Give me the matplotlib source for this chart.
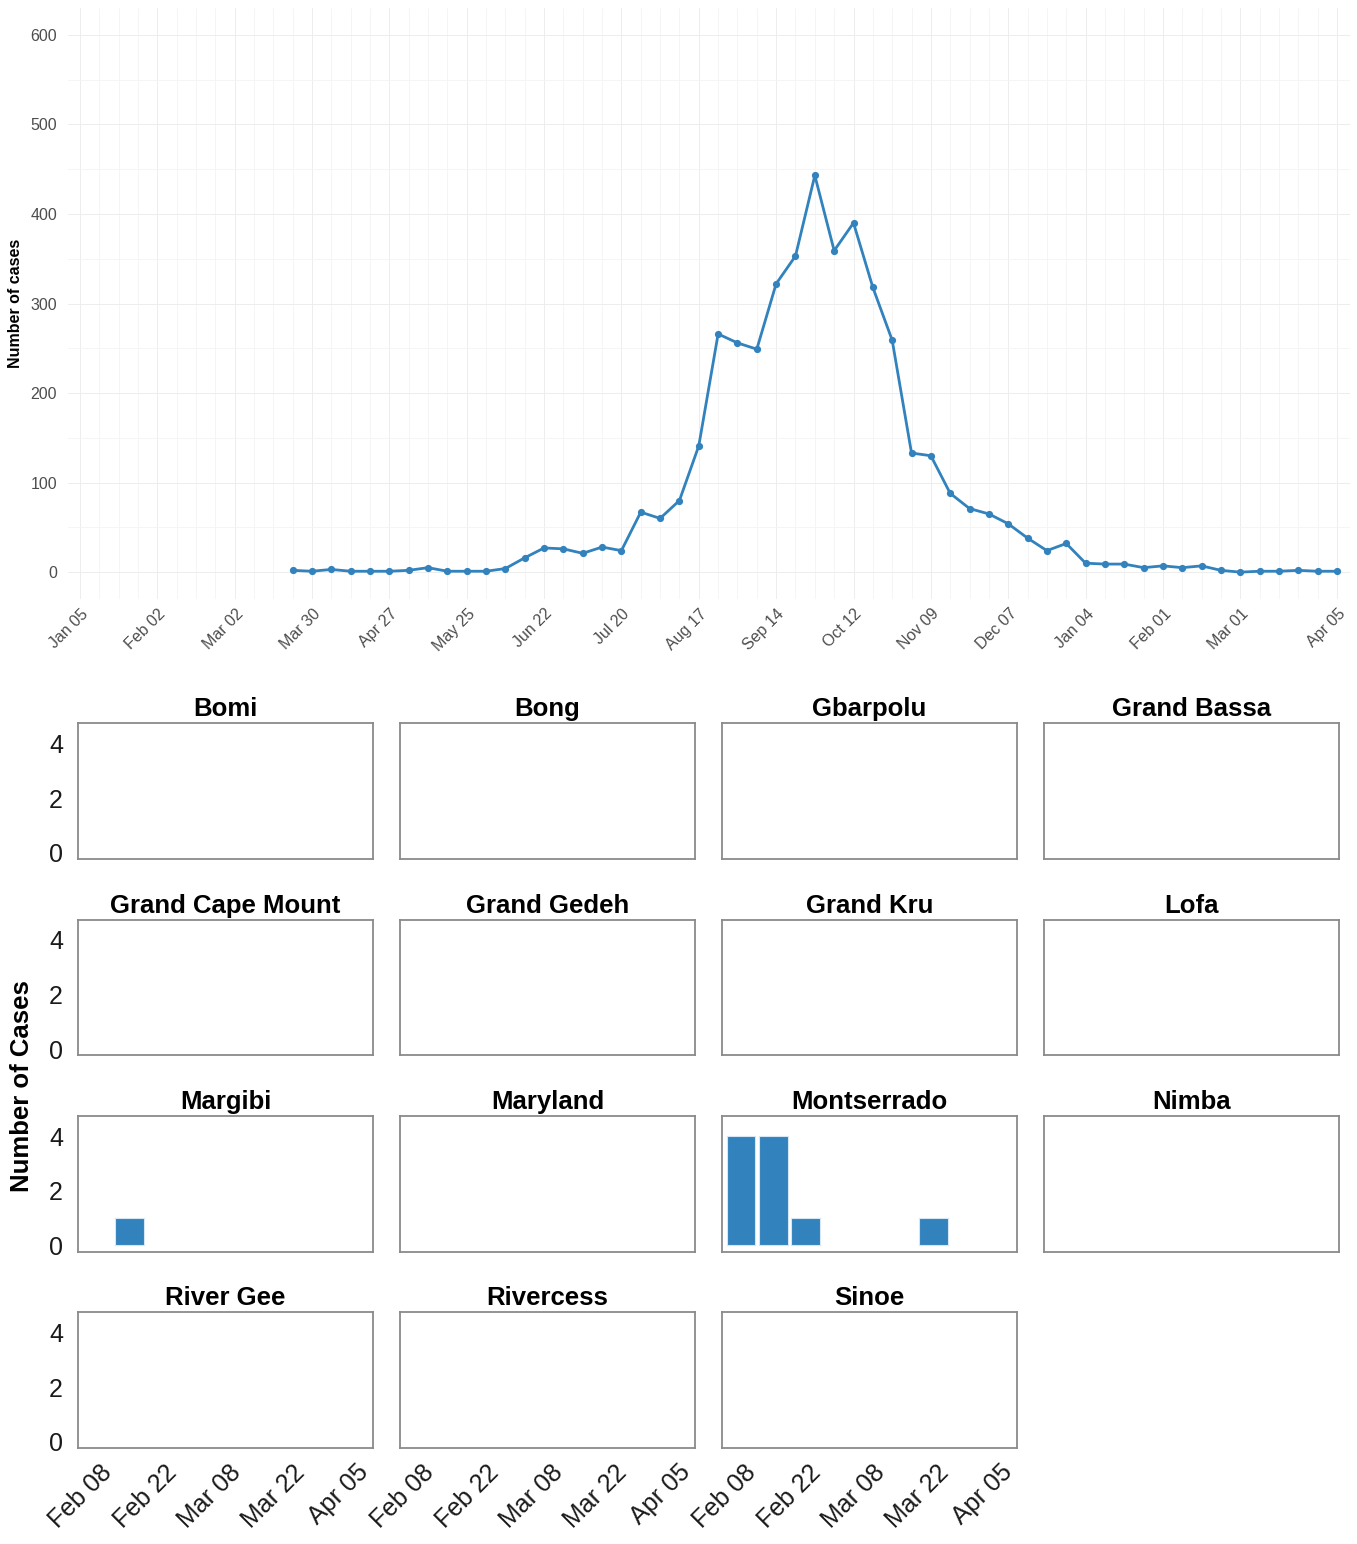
import matplotlib
matplotlib.use("Agg")
import matplotlib.pyplot as plt
import matplotlib.dates as mdates
from matplotlib.transforms import ScaledTranslation
import pandas as pd

plt.rcParams['font.family'] = ['Liberation Sans', 'DejaVu Sans']

# ---- National weekly case counts (weeks starting 2014-03-23) ----
first_week = "2014-03-23"
weekly_cases = [2, 1, 3, 1, 1, 1, 2, 5, 1, 1,
                1, 4, 16, 27, 26, 21, 28, 24, 67, 60,
                80, 141, 266, 256, 249, 322, 353, 443, 359, 390,
                318, 259, 133, 130, 88, 71, 65, 54, 38, 24,
                32, 10, 9, 9, 5, 7, 5, 7, 2, 0,
                1, 1, 2, 1, 1]
top_tick_dates = ["2014-01-05", "2014-02-02", "2014-03-02", "2014-03-30",
                  "2014-04-27", "2014-05-25", "2014-06-22", "2014-07-20",
                  "2014-08-17", "2014-09-14", "2014-10-12", "2014-11-09",
                  "2014-12-07", "2015-01-04", "2015-02-01", "2015-03-01",
                  "2015-04-05"]
top_yticks = [0, 100, 200, 300, 400, 500, 600]

# ---- County weekly counts, recent weeks ----
counties = ["Bomi", "Bong", "Gbarpolu", "Grand Bassa",
            "Grand Cape Mount", "Grand Gedeh", "Grand Kru", "Lofa",
            "Margibi", "Maryland", "Montserrado", "Nimba",
            "River Gee", "Rivercess", "Sinoe"]
county_weeks = ["2015-02-07", "2015-02-14", "2015-02-21", "2015-02-28",
                "2015-03-07", "2015-03-14", "2015-03-21"]
margibi_cases = [0, 1, 0, 0, 0, 0, 0]
montserrado_cases = [4, 4, 1, 0, 0, 0, 1]
facet_tick_dates = ["2015-02-08", "2015-02-22", "2015-03-08", "2015-03-22", "2015-04-05"]
facet_yticks = [0, 2, 4]

BLUE = "#3182bd"
FW, FH = 1357, 1544
fig = plt.figure(figsize=(FW / 100, FH / 100), dpi=100)


def px_axes(left, top, width, height):
    return fig.add_axes([left / FW, 1 - (top + height) / FH, width / FW, height / FH])


def shift_labels(labels, dx_px, dy_px=0):
    off = ScaledTranslation(dx_px / 100, dy_px / 100, fig.dpi_scale_trans)
    for lab in labels:
        lab.set_transform(lab.get_transform() + off)


# ---------------- National time series ----------------
ax = px_axes(68, 8, 1282, 591)
weeks = pd.date_range(first_week, periods=len(weekly_cases), freq="7D")
ax.plot(weeks, weekly_cases, color=BLUE, lw=2.0, marker="o", ms=5.2,
        markeredgewidth=0, zorder=3)

tick_dt = pd.to_datetime(top_tick_dates)
all_weeks = pd.date_range(tick_dt[0], tick_dt[-1], freq="7D")
ax.set_xticks(tick_dt)
ax.set_xticklabels([d.strftime("%b %d") for d in tick_dt])
ax.set_xticks(all_weeks, minor=True)
ax.set_xlim(mdates.date2num(tick_dt[0]) - 4.3, mdates.date2num(tick_dt[-1]) + 4.7)
ax.set_yticks(top_yticks)
ax.set_yticks([v + 50 for v in top_yticks[:-1]], minor=True)
ax.set_ylim(-30, 630)
ax.grid(True, which="major", color="#ededed", lw=0.7)
ax.grid(True, which="minor", color="#f4f4f4", lw=0.6)
ax.set_axisbelow(True)
for s in ax.spines.values():
    s.set_visible(False)
ax.tick_params(which="both", length=0, labelsize=11.5, colors="#4d4d4d")
ax.tick_params(axis="y", pad=8)
ax.tick_params(axis="x", pad=9)
for lab in ax.get_xticklabels():
    lab.set_rotation(45)
    lab.set_ha("right")
    lab.set_va("center")
    lab.set_rotation_mode("anchor")
shift_labels(ax.get_xticklabels(), 6)
ax.set_ylabel("Number of cases", fontsize=11.5, fontweight="bold", labelpad=5)

# ---------------- County panels ----------------
county_series = {"Margibi": margibi_cases, "Montserrado": montserrado_cases}
wk_num = mdates.date2num(pd.to_datetime(county_weeks))
f_ticks = mdates.date2num(pd.to_datetime(facet_tick_dates))
f_xlim = (wk_num[0] - 4.1, wk_num[-1] + 18.2)

for i, name in enumerate(counties):
    r, c = divmod(i, 4)
    fx = px_axes(78.3 + c * 322, 723.3 + r * 196.35, 294.4, 135.5)
    vals = county_series.get(name, [0] * len(county_weeks))
    xs = [x for x, v in zip(wk_num, vals) if v > 0]
    hs = [v for v in vals if v > 0]
    if xs:
        fx.bar(xs, hs, width=6.3, color=BLUE, edgecolor="#d6e6f4", linewidth=0.8)
    fx.set_xlim(*f_xlim)
    fx.set_ylim(-0.22, 4.74)
    fx.set_yticks(facet_yticks)
    fx.set_xticks(f_ticks)
    fx.set_title(name, fontsize=18.5, fontweight="bold", pad=5)
    for s in fx.spines.values():
        s.set_color("#8a8a8a")
        s.set_linewidth(1.3)
    fx.tick_params(length=0, labelsize=18, colors="#1a1a1a")
    fx.tick_params(axis="y", pad=11)
    if c == 0:
        fx.set_yticklabels([str(v) for v in facet_yticks])
    else:
        fx.set_yticklabels([])
    if i >= 12:
        fx.set_xticklabels([pd.Timestamp(mdates.num2date(t)).strftime("%b %d") for t in f_ticks])
        for lab in fx.get_xticklabels():
            lab.set_rotation(45)
            lab.set_ha("right")
            lab.set_va("center")
            lab.set_rotation_mode("anchor")
        fx.tick_params(axis="x", pad=15)
        shift_labels(fx.get_xticklabels(), 7)
    else:
        fx.set_xticklabels([])

fig.text(22 / FW, 1 - 1086 / FH, "Number of Cases", rotation=90, fontsize=18.5,
         fontweight="bold", ha="center", va="center")

fig.savefig("out.png", dpi=100, facecolor="white")
